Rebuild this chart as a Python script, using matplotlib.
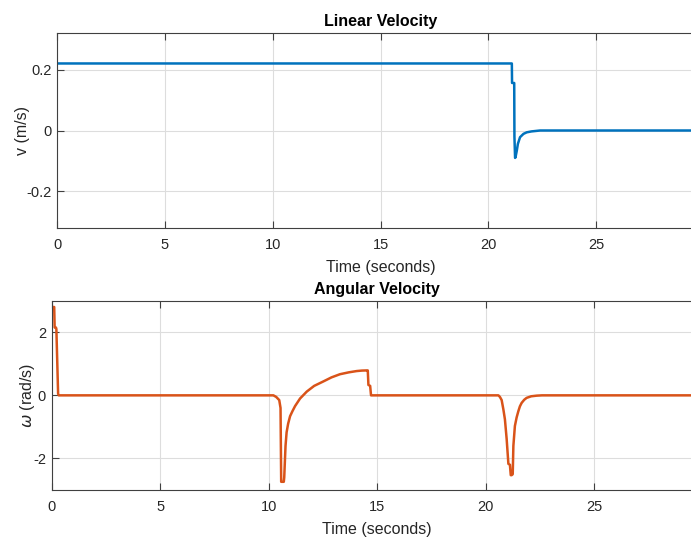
import matplotlib
matplotlib.use("Agg")
import matplotlib.pyplot as plt

plt.rcParams['font.family'] = ['Liberation Sans', 'DejaVu Sans']
plt.rcParams['axes.unicode_minus'] = False

# velocidad lineal (m/s)
t_v = [0, 21.09, 21.10, 21.20, 21.21, 21.24, 21.26, 21.32, 21.37, 21.47, 21.63, 21.78, 22.0, 22.4, 30]
v = [0.22, 0.22, 0.156, 0.156, -0.02, -0.09, -0.088, -0.066, -0.044, -0.022, -0.011, -0.006, -0.003, 0.0, 0.0]

# velocidad angular (rad/s)
t_w = [0, 0.12, 0.14, 0.20, 0.22, 0.30, 0.33,
       10.22, 10.35, 10.49, 10.55, 10.58, 10.70, 10.72, 10.78, 10.83, 10.9, 10.99, 11.1, 11.22,
       11.45, 11.76, 12.1, 12.52, 12.9, 13.29, 13.7, 14.06, 14.3, 14.52, 14.57, 14.60, 14.68, 14.72,
       20.59, 20.66, 20.74, 20.82, 20.89, 20.97, 21.05, 21.12, 21.16, 21.2, 21.25, 21.28, 21.35,
       21.43, 21.51, 21.58, 21.66, 21.78, 21.89, 22.1, 22.35, 22.6, 30]
w = [2.8, 2.8, 2.15, 2.15, 2.1, 0.05, 0.0,
     0.0, -0.05, -0.15, -0.4, -2.74, -2.74, -2.6, -1.6, -1.17, -0.9, -0.66, -0.5, -0.34,
     -0.1, 0.12, 0.3, 0.44, 0.57, 0.67, 0.73, 0.77, 0.785, 0.79, 0.79, 0.33, 0.3, 0.0,
     0.0, -0.05, -0.15, -0.45, -0.76, -1.38, -2.17, -2.2, -2.53, -2.53, -2.5, -1.6, -0.97,
     -0.7, -0.5, -0.35, -0.24, -0.14, -0.08, -0.03, -0.01, 0.0, 0.0]

ejes_color = '#404040'
texto_color = '#262626'

fig = plt.figure(figsize=(6.91, 5.39), dpi=100)
ax1 = fig.add_axes([57 / 691, 1 - 228 / 539, (704 - 57) / 691, (228 - 33) / 539])
ax2 = fig.add_axes([51.6 / 691, 1 - 490 / 539, (702.6 - 51.6) / 691, (490 - 300.7) / 539])

ax1.plot(t_v, v, color='#0072BD', lw=1.8)
ax1.set_ylim(-0.32, 0.32)
ax1.set_yticks([-0.2, 0, 0.2])
ax1.set_yticklabels(['-0.2', '0', '0.2'])
ax1.set_ylabel('v (m/s)', fontsize=11.5, color=texto_color, labelpad=-3)
ax1.set_title('Linear Velocity', fontsize=11.5, fontweight='bold', color='black', pad=5)

ax2.plot(t_w, w, color='#D95319', lw=1.8)
ax2.set_ylim(-3, 3)
ax2.set_yticks([-2, 0, 2])
ax2.set_ylabel(r'$\omega$ (rad/s)', fontsize=11.5, color=texto_color, labelpad=-3)
ax2.set_title('Angular Velocity', fontsize=11.5, fontweight='bold', color='black', pad=5)

for ax in (ax1, ax2):
    ax.set_xlim(0, 30)
    ax.set_xticks([0, 5, 10, 15, 20, 25])
    ax.set_xlabel('Time (seconds)', fontsize=11.5, color=texto_color, labelpad=6)
    ax.grid(True, color='#dddddd', lw=0.8)
    ax.set_axisbelow(True)
    ax.tick_params(direction='in', length=5, width=0.8, colors=ejes_color,
                   labelcolor=texto_color, labelsize=10.5, top=True, right=True)
    ax.tick_params(axis='x', pad=7)
    ax.tick_params(axis='y', pad=4)
    for s in ax.spines.values():
        s.set_color(ejes_color)
        s.set_linewidth(0.8)

fig.savefig('out.png', dpi=100)
